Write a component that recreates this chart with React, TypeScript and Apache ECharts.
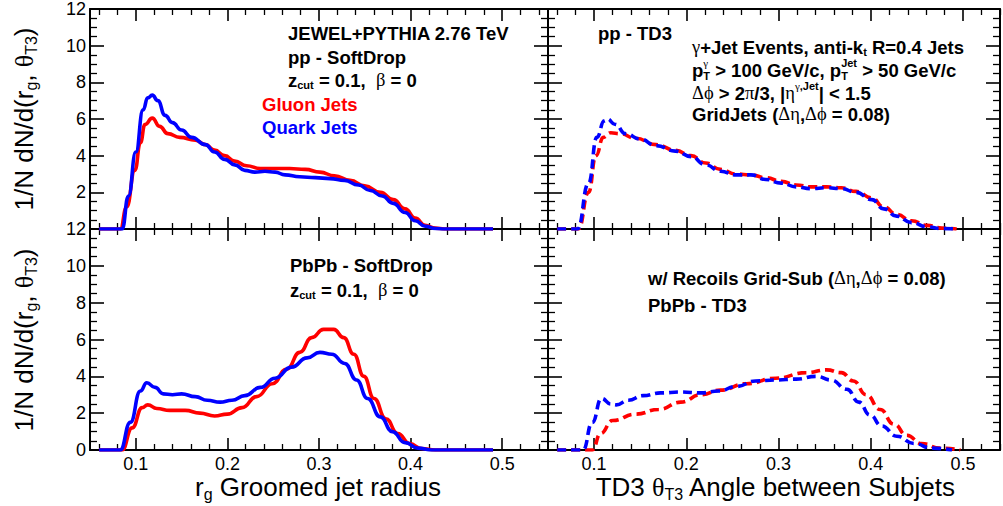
import React, { useEffect, useRef } from "react";
import * as echarts from "echarts";

// ---------- data ----------
// Top-left: pp SoftDrop (r_g)
const tlGluonX = [0.06, 0.083, 0.09, 0.099, 0.105, 0.11, 0.118, 0.126, 0.135, 0.148, 0.165, 0.176, 0.186, 0.197, 0.208, 0.221, 0.236, 0.252, 0.268, 0.285, 0.301, 0.317, 0.334, 0.35, 0.367, 0.381, 0.394, 0.405, 0.416, 0.427, 0.437, 0.49];
const tlGluonY = [0, 0, 1.2, 3.2, 4.7, 5.7, 6.05, 5.6, 5.2, 5.0, 4.85, 4.6, 4.3, 4.0, 3.7, 3.45, 3.3, 3.3, 3.3, 3.25, 3.1, 2.9, 2.65, 2.35, 2.0, 1.6, 1.1, 0.6, 0.2, 0.05, 0, 0];
const tlQuarkX = [0.06, 0.085, 0.092, 0.1, 0.108, 0.113, 0.118, 0.124, 0.132, 0.14, 0.15, 0.161, 0.176, 0.186, 0.197, 0.208, 0.219, 0.23, 0.241, 0.252, 0.263, 0.279, 0.296, 0.312, 0.328, 0.343, 0.356, 0.369, 0.381, 0.394, 0.405, 0.416, 0.427, 0.437, 0.49];
const tlQuarkY = [0, 0, 1.8, 4.2, 6.5, 7.15, 7.3, 7.0, 6.2, 5.8, 5.4, 5.0, 4.6, 4.2, 3.8, 3.5, 3.2, 3.1, 3.15, 3.1, 2.95, 2.85, 2.8, 2.75, 2.65, 2.4, 2.1, 1.8, 1.4, 0.9, 0.45, 0.15, 0.03, 0, 0];

// Top-right: pp TD3 (theta_T3)
const trGluonX = [0.06, 0.083, 0.094, 0.102, 0.11, 0.118, 0.128, 0.145, 0.167, 0.188, 0.205, 0.221, 0.237, 0.254, 0.27, 0.286, 0.303, 0.319, 0.335, 0.352, 0.368, 0.384, 0.401, 0.414, 0.428, 0.444, 0.461, 0.477, 0.493];
const trGluonY = [0, 0, 2.0, 4.0, 5.0, 5.25, 5.2, 4.95, 4.6, 4.3, 4.0, 3.6, 3.25, 3.0, 2.95, 2.8, 2.6, 2.4, 2.3, 2.3, 2.25, 2.05, 1.7, 1.2, 0.8, 0.45, 0.2, 0.05, 0];
const trQuarkX = [0.06, 0.082, 0.094, 0.103, 0.111, 0.114, 0.123, 0.134, 0.15, 0.167, 0.188, 0.205, 0.221, 0.237, 0.254, 0.27, 0.286, 0.303, 0.319, 0.335, 0.352, 0.368, 0.384, 0.401, 0.414, 0.428, 0.444, 0.461, 0.477, 0.493];
const trQuarkY = [0, 0, 2.5, 5.0, 5.9, 6.0, 5.7, 5.2, 4.9, 4.55, 4.25, 3.95, 3.5, 3.15, 2.95, 2.95, 2.7, 2.5, 2.3, 2.2, 2.25, 2.2, 2.0, 1.6, 1.1, 0.7, 0.35, 0.12, 0.02, 0];

// Bottom-left: PbPb SoftDrop
const blGluonX = [0.06, 0.085, 0.096, 0.107, 0.113, 0.123, 0.137, 0.154, 0.17, 0.186, 0.2, 0.216, 0.232, 0.249, 0.265, 0.279, 0.292, 0.305, 0.316, 0.327, 0.338, 0.349, 0.36, 0.373, 0.386, 0.399, 0.412, 0.427, 0.49];
const blGluonY = [0, 0, 1.2, 2.3, 2.45, 2.25, 2.15, 2.15, 2.0, 1.85, 1.95, 2.3, 2.9, 3.6, 4.4, 5.3, 6.1, 6.55, 6.55, 6.1, 5.2, 4.0, 2.8, 1.7, 0.9, 0.35, 0.08, 0, 0];
const blQuarkX = [0.06, 0.083, 0.094, 0.105, 0.112, 0.121, 0.13, 0.14, 0.15, 0.165, 0.178, 0.192, 0.205, 0.219, 0.236, 0.252, 0.27, 0.287, 0.301, 0.314, 0.328, 0.341, 0.353, 0.367, 0.38, 0.394, 0.408, 0.423, 0.49];
const blQuarkY = [0, 0, 1.5, 3.2, 3.65, 3.4, 3.05, 3.0, 3.05, 2.9, 2.7, 2.6, 2.7, 2.95, 3.4, 3.9, 4.5, 5.0, 5.3, 5.2, 4.7, 3.8, 2.8, 1.8, 1.0, 0.4, 0.1, 0, 0];

// Bottom-right: PbPb TD3
const brGluonX = [0.06, 0.098, 0.107, 0.12, 0.145, 0.17, 0.194, 0.216, 0.237, 0.265, 0.297, 0.33, 0.352, 0.368, 0.381, 0.395, 0.41, 0.425, 0.439, 0.455, 0.475, 0.497];
const brGluonY = [0, 0, 0.9, 1.6, 1.95, 2.2, 2.6, 3.0, 3.25, 3.6, 3.9, 4.2, 4.35, 4.2, 3.75, 3.0, 2.2, 1.4, 0.8, 0.35, 0.1, 0];
const brQuarkX = [0.06, 0.088, 0.098, 0.108, 0.118, 0.124, 0.137, 0.153, 0.172, 0.194, 0.216, 0.235, 0.254, 0.275, 0.297, 0.319, 0.341, 0.357, 0.374, 0.387, 0.399, 0.412, 0.428, 0.447, 0.466, 0.488];
const brQuarkY = [0, 0, 1.5, 2.8, 2.5, 2.45, 2.7, 2.95, 3.1, 3.15, 3.1, 3.2, 3.45, 3.75, 3.8, 3.85, 4.0, 3.8, 3.3, 2.6, 1.9, 1.3, 0.75, 0.35, 0.1, 0];

// ticks
const xMajorTicks = [0.1, 0.2, 0.3, 0.4, 0.5];
const xMinorTicks = [0.06, 0.08, 0.12, 0.14, 0.16, 0.18, 0.22, 0.24, 0.26, 0.28, 0.32, 0.34, 0.36, 0.38, 0.42, 0.44, 0.46, 0.48, 0.52, 0.54];
const yMin = 0;
const yMax = 12;
const yStep = 2;

// ---------- text helpers ----------
const SANS = '"Liberation Sans", Arial, Helvetica, sans-serif';
const SERIF = '"Liberation Serif", "Times New Roman", serif';

let ctx: CanvasRenderingContext2D | null = null;
function tw(text: string, size: number, bold: boolean, serif: boolean) {
  if (!ctx) ctx = document.createElement("canvas").getContext("2d");
  if (!ctx) return text.length * size * 0.55;
  ctx.font = `${bold ? "bold " : ""}${size}px ${serif ? SERIF : SANS}`;
  return ctx.measureText(text).width;
}

type Seg = { t?: string; k?: "n" | "g" | "sub" | "sup" | "gsup" | "stack"; sub?: string; sup?: string; supG?: boolean };

function richLine(segs: Seg[], x: number, y: number, size: number, bold: boolean, color: string, align: "left" | "center" = "left", rotation = 0) {
  const small = Math.round(size * 0.6);
  const subDy = size * 0.29;
  const supDy = -size * 0.36;
  const pieces: any[] = [];
  let cx = 0;
  const mk = (text: string, px: number, py: number, sz: number, serif: boolean, b: boolean) => ({
    type: "text",
    style: {
      text,
      x: px,
      y: py,
      fontSize: sz,
      fontFamily: serif ? SERIF : SANS,
      fontWeight: b ? "bold" : "normal",
      fill: color,
      align: "left",
      verticalAlign: "middle",
      textAlign: "left",
      textVerticalAlign: "middle",
    },
  });
  for (const s of segs) {
    const k = s.k || "n";
    if (k === "n" || k === "g") {
      const serif = k === "g";
      const b = serif ? false : bold;
      pieces.push(mk(s.t!, cx, 0, size, serif, b));
      cx += tw(s.t!, size, b, serif);
    } else if (k === "sub") {
      pieces.push(mk(s.t!, cx, subDy, small, false, bold));
      cx += tw(s.t!, small, bold, false);
    } else if (k === "sup" || k === "gsup") {
      const serif = k === "gsup";
      pieces.push(mk(s.t!, cx, supDy, small, serif, serif ? false : bold));
      cx += tw(s.t!, small, serif ? false : bold, serif);
    } else if (k === "stack") {
      pieces.push(mk(s.sub!, cx, subDy + 0.5, small, false, bold));
      pieces.push(mk(s.sup!, cx, supDy - 0.5, small, !!s.supG, s.supG ? false : bold));
      cx += Math.max(tw(s.sub!, small, bold, false), tw(s.sup!, small, s.supG ? false : bold, !!s.supG));
    }
  }
  const off = align === "center" ? -cx / 2 : 0;
  pieces.forEach((p) => (p.style.x += off));
  return { type: "group", x, y, rotation, children: pieces, silent: true };
}

function pairs(xs: number[], ys: number[]) {
  return xs.map((x, i) => [x, ys[i]]);
}

// ---------- layout ----------
const GRIDS = [
  { left: 90, top: 9, width: 458, height: 220, xmax: 0.55 },
  { left: 548, top: 9, width: 452, height: 220, xmax: 0.54 },
  { left: 90, top: 229, width: 458, height: 221, xmax: 0.55 },
  { left: 548, top: 229, width: 452, height: 221, xmax: 0.54 },
];

const RED = "#ff0000";
const BLUE = "#0000ff";

function buildOption() {
  const labelStyle = { fontSize: 18, fontFamily: SANS, color: "#000" };
  const xAxis: any[] = [];
  const yAxis: any[] = [];
  GRIDS.forEach((g, gi) => {
    const showLabels = gi >= 2;
    const base = { gridIndex: gi, type: "value", min: 0.05, max: g.xmax, splitLine: { show: false } };
    const line = { show: true, onZero: false, lineStyle: { color: "#000", width: 2 } };
    xAxis.push({
      ...base,
      position: "bottom",
      axisLine: line,
      axisTick: { show: true, inside: true, length: 12, customValues: xMajorTicks, lineStyle: { color: "#000", width: 1.6 } },
      axisLabel: { show: showLabels, customValues: xMajorTicks, margin: 5, formatter: (v: number) => v.toFixed(1), ...labelStyle },
    });
    xAxis.push({
      ...base,
      position: "bottom",
      axisLine: { show: false, onZero: false },
      axisTick: { show: true, inside: true, length: 6, customValues: xMinorTicks, lineStyle: { color: "#000", width: 1.3 } },
      axisLabel: { show: false },
    });
    xAxis.push({
      ...base,
      position: "top",
      axisLine: line,
      axisTick: { show: true, inside: true, length: 12, customValues: xMajorTicks, lineStyle: { color: "#000", width: 1.6 } },
      axisLabel: { show: false },
    });
    xAxis.push({
      ...base,
      position: "top",
      axisLine: { show: false, onZero: false },
      axisTick: { show: true, inside: true, length: 6, customValues: xMinorTicks, lineStyle: { color: "#000", width: 1.3 } },
      axisLabel: { show: false },
    });
    const ybase = {
      gridIndex: gi,
      type: "value",
      min: yMin,
      max: yMax,
      interval: yStep,
      splitLine: { show: false },
      axisLine: line,
      axisTick: { show: true, inside: true, length: 14, lineStyle: { color: "#000", width: 1.6 } },
      minorTick: { show: true, splitNumber: 4, length: 7, lineStyle: { color: "#000", width: 1.3 } },
      minorSplitLine: { show: false },
    };
    yAxis.push({
      ...ybase,
      position: "left",
      axisLabel: {
        show: gi === 0 || gi === 2,
        margin: 4,
        formatter: (v: number) => (gi === 0 && v === 0 ? "" : String(v)),
        ...labelStyle,
      },
    });
    yAxis.push({ ...ybase, position: "right", axisLabel: { show: false } });
  });

  const mkSeries = (gi: number, xs: number[], ys: number[], color: string, dashed: boolean) => ({
    type: "line",
    xAxisIndex: gi * 4,
    yAxisIndex: gi * 2,
    data: pairs(xs, ys),
    showSymbol: false,
    symbol: "none",
    smooth: 0.5,
    smoothMonotone: "x",
    lineStyle: { color, width: 3.6, type: dashed ? [9, 5] : "solid", cap: "butt" },
    z: color === BLUE ? 3 : 2,
  });

  const series = [
    mkSeries(0, tlGluonX, tlGluonY, RED, false),
    mkSeries(0, tlQuarkX, tlQuarkY, BLUE, false),
    mkSeries(1, trGluonX, trGluonY, RED, true),
    mkSeries(1, trQuarkX, trQuarkY, BLUE, true),
    mkSeries(2, blGluonX, blGluonY, RED, false),
    mkSeries(2, blQuarkX, blQuarkY, BLUE, false),
    mkSeries(3, brGluonX, brGluonY, RED, true),
    mkSeries(3, brQuarkX, brQuarkY, BLUE, true),
  ];

  const F = 18.5;
  const K = "#000";
  const graphic: any[] = [
    // top-left
    richLine([{ t: "JEWEL+PYTHIA 2.76 TeV" }], 288, 33, F, true, K),
    richLine([{ t: "pp - SoftDrop" }], 288, 57, F, true, K),
    richLine([{ t: "z" }, { k: "sub", t: "cut" }, { t: " = 0.1,  " }, { k: "g", t: "β" }, { t: " = 0" }], 288, 80, F, true, K),
    richLine([{ t: "Gluon Jets" }], 262, 104, F, true, RED),
    richLine([{ t: "Quark Jets" }], 262, 127, F, true, BLUE),
    // top-right
    richLine([{ t: "pp - TD3" }], 598, 33, F, true, K),
    richLine([{ k: "g", t: "γ" }, { t: "+Jet Events, anti-k" }, { k: "sub", t: "t" }, { t: " R=0.4 Jets" }], 692, 47, F, true, K),
    richLine(
      [{ t: "p" }, { k: "stack", sub: "T", sup: "γ", supG: true }, { t: " > 100 GeV/c, p" }, { k: "stack", sub: "T", sup: "Jet" }, { t: " > 50 GeV/c" }],
      692, 70, F, true, K
    ),
    richLine(
      [{ k: "g", t: "Δϕ" }, { t: " > 2" }, { k: "g", t: "π" }, { t: "/3, |" }, { k: "g", t: "η" }, { k: "gsup", t: "γ" }, { k: "sup", t: ",Jet" }, { t: "| < 1.5" }],
      692, 93, F, true, K
    ),
    richLine([{ t: "GridJets (" }, { k: "g", t: "Δη" }, { t: "," }, { k: "g", t: "Δϕ" }, { t: " = 0.08)" }], 692, 114, F, true, K),
    // bottom-left
    richLine([{ t: "PbPb - SoftDrop" }], 290, 265, F, true, K),
    richLine([{ t: "z" }, { k: "sub", t: "cut" }, { t: " = 0.1,  " }, { k: "g", t: "β" }, { t: " = 0" }], 290, 290, F, true, K),
    // bottom-right
    richLine([{ t: "w/ Recoils Grid-Sub (" }, { k: "g", t: "Δη" }, { t: "," }, { k: "g", t: "Δϕ" }, { t: " = 0.08)" }], 648, 278, F, true, K),
    richLine([{ t: "PbPb - TD3" }], 648, 305, F, true, K),
    // axis titles
    richLine([{ t: "r" }, { k: "sub", t: "g" }, { t: " Groomed jet radius" }], 318, 487, 26, false, K, "center"),
    richLine([{ t: "TD3 " }, { k: "g", t: "θ" }, { k: "sub", t: "T3" }, { t: " Angle between Subjets" }], 776, 487, 26, false, K, "center"),
    richLine([{ t: "1/N dN/d(r" }, { k: "sub", t: "g" }, { t: ", " }, { k: "g", t: "θ" }, { k: "sub", t: "T3" }, { t: ")" }], 24, 119, 26, false, K, "center", Math.PI / 2),
    richLine([{ t: "1/N dN/d(r" }, { k: "sub", t: "g" }, { t: ", " }, { k: "g", t: "θ" }, { k: "sub", t: "T3" }, { t: ")" }], 24, 340, 26, false, K, "center", Math.PI / 2),
  ];

  return {
    animation: false,
    backgroundColor: "#fff",
    grid: GRIDS.map((g) => ({ left: g.left, top: g.top, width: g.width, height: g.height, containLabel: false })),
    xAxis,
    yAxis,
    series,
    graphic,
  };
}

export default function App() {
  const ref = useRef<HTMLDivElement>(null);
  useEffect(() => {
    if (!ref.current) return;
    const chart = echarts.init(ref.current, undefined, { renderer: "svg" });
    chart.setOption(buildOption() as any);
    return () => chart.dispose();
  }, []);
  return <div ref={ref} style={{ position: "absolute", left: 0, top: 0, width: 1003, height: 506, background: "#fff" }} />;
}
